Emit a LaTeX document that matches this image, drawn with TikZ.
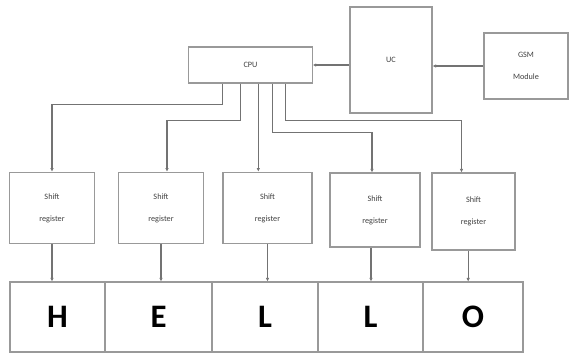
\documentclass[tikz,border=0pt]{standalone}
\usepackage{fontspec}
\setmainfont{Carlito}
\usetikzlibrary{arrows.meta,calc}

\begin{document}
\begin{tikzpicture}[x=0.03cm,y=-0.03cm,
  blk/.style={draw=black!40,line width=0.9pt,inner sep=0pt,align=center,
    text=black!75,font=\fontsize{7}{19}\selectfont},
  reg/.style={blk,minimum width=2.55cm,minimum height=2.15cm},
  cell/.style={draw=black!40,line width=0.9pt,minimum height=2.1cm,inner sep=0pt,
    font=\fontsize{28}{30}\selectfont\bfseries},
  link/.style={draw=black!55,line width=0.9pt,-{Latex[length=3pt,width=3pt]}}]
\useasboundingbox (0,0) rectangle (570,354);

% top row
\node[blk,minimum width=3.7cm,minimum height=1.08cm] (cpu) at (250.5,65) {CPU};
\node[blk,minimum width=2.46cm,minimum height=3.18cm] (uc) at (391,60) {UC};
\node[blk,minimum width=2.52cm,minimum height=1.98cm] (gsm) at (526,66) {GSM\\Module};

\draw[link] (gsm.west) -- (uc.east |- gsm.west);
\draw[link] (uc.west |- cpu.east) -- (cpu.east);

% shift registers
\node[reg] (sr1) at (52,208) {Shift\\register};
\node[reg] (sr2) at (161,208) {Shift\\register};
\node[reg,minimum width=2.67cm] (sr3) at (267.5,208) {Shift\\register};
\node[reg,minimum width=2.7cm,minimum height=2.22cm] (sr4) at (375,210) {Shift\\register};
\node[reg,minimum width=2.49cm,minimum height=2.31cm] (sr5) at (473.5,211.5) {Shift\\register};

\draw[link] ($(cpu.south west)+(34,0)$) -- ++(0,21) -| (sr1.north);
\draw[link] ($(cpu.south west)+(52,0)$) -- ++(0,37) -| ([xshift=1.8mm]sr2.north);
\draw[link] ($(cpu.south west)+(70,0)$) coordinate (c3) -- (c3 |- sr3.north);
\draw[link] ($(cpu.south west)+(84,0)$) -- ++(0,49) -| ([xshift=-0.9mm]sr4.north);
\draw[link] ($(cpu.south west)+(97,0)$) -- ++(0,37) -| ([xshift=-3.6mm]sr5.north);

% letters
\node[cell,minimum width=2.85cm] (l1) at (57.5,317) {H};
\node[cell,minimum width=3.21cm] (l2) at (158.5,317) {E};
\node[cell,minimum width=3.18cm] (l3) at (265,317) {L};
\node[cell,minimum width=3.15cm] (l4) at (370.5,317) {L};
\node[cell,minimum width=3cm] (l5) at (473,317) {O};

\draw[link] (sr1.south) -- (sr1.south |- l1.north);
\draw[link] (sr2.south) -- (sr2.south |- l2.north);
\draw[link] (sr3.south) -- (sr3.south |- l3.north);
\draw[link] ([xshift=-1.2mm]sr4.south) -- ([xshift=-1.2mm]sr4.south |- l4.north);
\draw[link] ([xshift=-1.6mm]sr5.south) -- ([xshift=-1.6mm]sr5.south |- l5.north);
\end{tikzpicture}
\end{document}
